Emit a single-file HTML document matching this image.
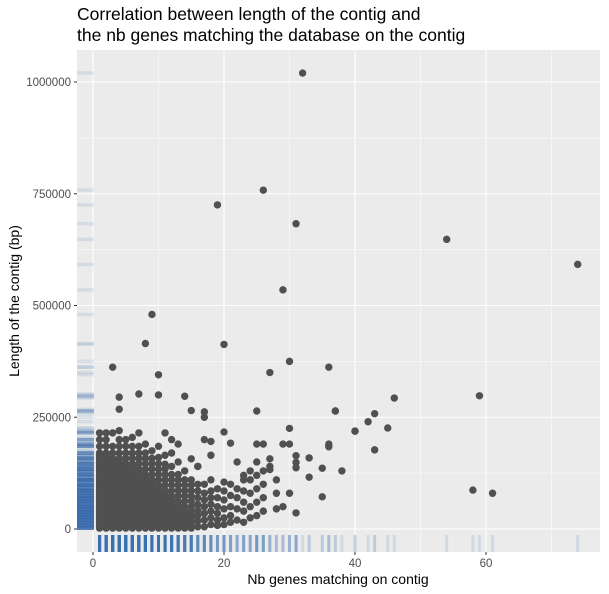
<!DOCTYPE html>
<html><head><meta charset="utf-8"><style>
body{margin:0;background:#fff;font-family:"Liberation Sans",sans-serif}
svg{display:block}
</style></head><body>
<svg id="chart" width="609" height="594">
<text x="77" y="20" font-size="17.5" fill="#000">Correlation between length of the contig and</text>
<text x="77" y="41" font-size="17.5" fill="#000">the nb genes matching the database on the contig</text>
<rect x="77" y="50" width="523" height="502" fill="#ebebeb"/>
<g id="grid"></g><g id="rugs"></g><g id="pts"></g><g id="axes"></g>
<text x="338" y="584" font-size="14" text-anchor="middle" fill="#000">Nb genes matching on contig</text>
<text transform="translate(19,301) rotate(-90)" font-size="14" text-anchor="middle" fill="#000">Length of the contig (bp)</text>
</svg>
<script>
const xTicks=[0,20,40,60];
const yTicks=[0,250000,500000,750000,1000000];
const yTickLabels=["0","250000","500000","750000","1000000"];
// dense columns: lengths in kb per gene count
const denseX=[1,2,3,4,5,6,7,8,9,10,11,12,13,14,15,16,17,18,19,20,21,22,23,24,25,26];
const denseLens=[
[2,8,14,20,26,32,38,44,50,56,62,68,74,80,86,92,98,104,110,116,122,128,134,140,146,152,158,164,170,185,200,215],
[2,8,14,20,26,32,38,44,50,56,62,68,74,80,86,92,98,104,110,116,122,128,134,140,146,152,158,164,170,185,200,215],
[2,8,14,20,26,32,38,44,50,56,62,68,74,80,86,92,98,104,110,116,122,128,134,140,146,152,158,170,185,215],
[2,8,14,20,26,32,38,44,50,56,62,68,74,80,86,92,98,104,110,116,122,128,134,140,146,152,158,170,185,200,220],
[2,8,14,20,26,32,38,44,50,56,62,68,74,80,86,92,98,104,110,116,122,128,134,140,146,158,170,185,200],
[2,8,14,20,26,32,38,44,50,56,62,68,74,80,86,92,98,104,110,116,122,128,134,140,146,158,170,185,205],
[2,8,14,20,26,32,38,44,50,56,62,68,74,80,86,92,98,104,110,116,122,128,134,146,158,170,185,215],
[2,8,14,20,26,32,38,44,50,56,62,68,74,80,86,92,98,104,110,116,122,134,146,158,170,190],
[2,8,14,20,26,32,38,44,50,56,62,68,74,80,86,92,98,104,110,122,134,146,158,175],
[2,8,14,20,26,32,38,44,50,56,62,68,74,80,86,92,98,110,122,134,146,160,185],
[2,8,14,20,26,32,38,44,50,56,62,68,74,80,86,98,110,122,134,145,165],
[2,8,14,20,26,32,38,44,50,56,62,68,74,86,98,110,122,140,170],
[2,8,14,20,26,32,38,44,50,56,62,74,86,98,110,122,150],
[2,8,14,20,26,32,38,44,50,62,74,86,98,110,130],
[2,8,14,20,26,32,38,50,62,74,86,98,110],
[5,18,30,42,55,70,85,100,140],
[5,20,35,50,65,80,100],
[10,25,40,55,70,85,110],
[8,20,35,50,70,90],
[10,25,45,65,85,105],
[15,30,50,75,100],
[20,45,70,90],
[15,40,60,85,110],
[25,50,80,110],
[30,60,90,120],
[40,70,100]];
const outX=[32,26,19,31,54,74,29,9,8,20,30,36,3,27,10,59,46,43,37,40,42,45,58,61,4,4,7,14,20,25,37,40,43,38,35,36,36,33,33,35,31,31,31,30,29,30,27,27,27,25,26,25,26,28,28,28,29,31,30,21,17,17,15,18,17,18,16,15,22,23,24,13,12,11,10];
const outL=[1020,758,725,683,648,592,535,480,415,413,375,362,362,350,345,298,293,258,264,219,240,226,87,80,295,268,302,297,217,264,264,219,177,130,136,184,190,159,116,72,164,149,137,225,190,190,157,133,140,190,190,150,130,110,80,45,50,36,80,192,262,250,265,196,200,165,140,157,150,120,130,190,200,215,300];
const X=v=>93+(v)*6.55;
const Y=v=>529-v/1000000*447;
const NS="http://www.w3.org/2000/svg";
function mk(t,a,p){const e=document.createElementNS(NS,t);for(const k in a)e.setAttribute(k,a[k]);p.appendChild(e);return e;}
const grid=document.getElementById('grid'),rugs=document.getElementById('rugs'),pts=document.getElementById('pts'),axes=document.getElementById('axes');
for(let v=-10;v<=70;v+=10){const x=X(v);if(x<77||x>600)continue;const l=mk('line',{x1:x,x2:x,y1:50,y2:552,stroke:'#fff','stroke-width':v%20===0?1.1:0.5},grid);

}
for(let v=-125000;v<=1100000;v+=125000){const y=Y(v);if(y<50||y>552)continue;const l=mk('line',{x1:77,x2:600,y1:y,y2:y,stroke:'#fff','stroke-width':v%250000===0?1.1:0.5},grid);

}
const all=[];
denseX.forEach((g,i)=>denseLens[i].forEach(k=>all.push([g,k*1000])));
outX.forEach((g,i)=>all.push([g,outL[i]*1000]));
all.forEach(([g,l])=>{
const r1=mk('line',{x1:X(g),x2:X(g),y1:535,y2:552,stroke:'#3a6eb0','stroke-width':3,'stroke-opacity':0.14},rugs);


const r2=mk('line',{x1:77,x2:94,y1:Y(l),y2:Y(l),stroke:'#3a6eb0','stroke-width':3.5,'stroke-opacity':0.12},rugs);


const c=mk('circle',{cx:X(g),cy:Y(l),r:3.7,fill:'#505050'},pts);


});
xTicks.forEach(v=>{const x=X(v);
const t=mk('line',{x1:x,x2:x,y1:552,y2:555,stroke:'#333','stroke-width':1},axes);


const s=mk('text',{x:x,y:567,'font-size':11.5,'text-anchor':'middle',fill:'#4d4d4d'},axes);s.textContent=v;

});
yTicks.forEach((v,i)=>{const y=Y(v);
const t=mk('line',{x1:74,x2:77,y1:y,y2:y,stroke:'#333','stroke-width':1},axes);


const s=mk('text',{x:71,y:y+4,'font-size':11.5,'text-anchor':'end',fill:'#4d4d4d'},axes);s.textContent=yTickLabels[i];

});
</script>
</body></html>
